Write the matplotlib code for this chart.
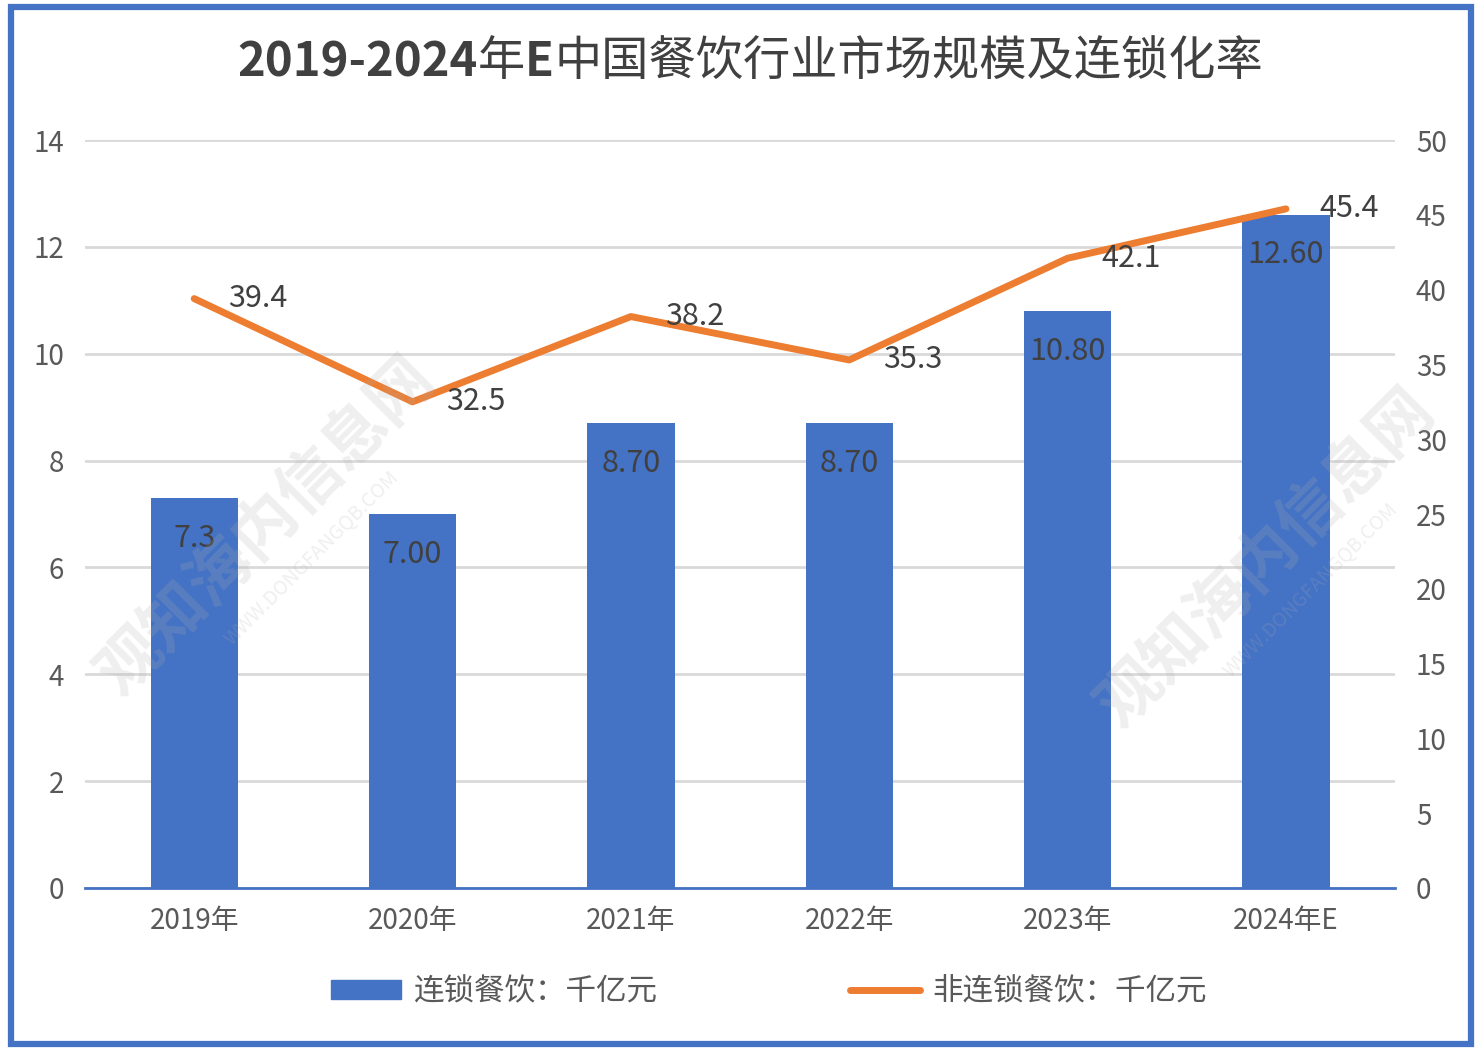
# -*- coding: utf-8 -*-

import matplotlib; matplotlib.use('Agg')
import matplotlib.pyplot as plt
from matplotlib.patches import Rectangle
from matplotlib.lines import Line2D

plt.rcParams['font.family'] = ['Noto Sans CJK SC', 'DejaVu Sans']

# --------------------------
# --- data

years = ['2019年', '2020年', '2021年', '2022年', '2023年', '2024年E']
chain = [7.3, 7.0, 8.7, 8.7, 10.8, 12.6]
chain_labels = ['7.3', '7.00', '8.70', '8.70', '10.80', '12.60']
non_chain = [39.4, 32.5, 38.2, 35.3, 42.1, 45.4]

blue = '#4472C4'
orange = '#ED7D31'
txt = '#595959'

# --------------------------
# --- plot

fig = plt.figure(figsize=(14.81, 10.53), dpi=100)
fig.patch.set_facecolor('white')

# outer blue frame
fig.patches.append(Rectangle((0.0075, 0.0085), 0.986, 0.985, transform=fig.transFigure,
                             fill=False, edgecolor=blue, linewidth=4.5))

ax = fig.add_axes([0.0574, 0.1567, 0.8846, 0.7103])
ax2 = ax.twinx()

x = list(range(len(years)))
ax.bar(x, chain, width=0.4, color=blue, zorder=3)
ax.set_xlim(-0.5, len(years) - 0.5)
ax.set_ylim(0, 14)
ax.set_yticks(range(0, 15, 2))
ax.grid(axis='y', color='#D9D9D9', linewidth=2, zorder=0)
ax.set_axisbelow(True)

for s in ['top', 'right', 'left']:
    ax.spines[s].set_visible(False)
    ax2.spines[s].set_visible(False)
ax2.spines['bottom'].set_visible(False)
ax.spines['bottom'].set_color(blue)
ax.spines['bottom'].set_linewidth(2)

ax.tick_params(axis='y', length=0, labelsize=20, labelcolor=txt, pad=15)
ax.tick_params(axis='x', length=0, labelsize=20, labelcolor=txt, pad=13)
ax.set_xticks(x)
ax.set_xticklabels(years)

for i, v in enumerate(chain):
    ax.text(i, v - 0.75, chain_labels[i], ha='center', va='center', fontsize=22, color='#404040', zorder=5)

ax2.plot(x, non_chain, color=orange, linewidth=5, solid_capstyle='round', zorder=4)
ax2.set_ylim(0, 50)
ax2.set_yticks(range(0, 51, 5))
ax2.tick_params(axis='y', length=0, labelsize=20, labelcolor=txt, pad=15)

for i, v in enumerate(non_chain):
    ax2.text(i + 0.155, v, f'{v:.1f}', ha='left', va='center', fontsize=22, color='#404040', zorder=5)

# watermarks
for wx, wy in [(0.18, 0.50), (0.855, 0.47)]:
    fig.text(wx, wy, '观知海内信息网', rotation=45, fontsize=46, color='#B0B0B0', alpha=0.2,
             ha='center', va='center', fontweight='bold')
    fig.text(wx + 0.03, wy - 0.03, 'WWW.DONGFANGQB.COM', rotation=45, fontsize=14, color='#B0B0B0',
             alpha=0.2, ha='center', va='center')

# title: bold digits, regular CJK
fig.canvas.draw()
renderer = fig.canvas.get_renderer()
parts = [('2019-2024', 'bold'), ('年', 'normal'), ('E', 'bold'), ('中国餐饮行业市场规模及连锁化率', 'normal')]
pieces = []
for s, w in parts:
    t = fig.text(0, 0.941, s, ha='left', va='center', fontsize=34, fontweight=w, color='#404040')
    pieces.append(t)
widths = [t.get_window_extent(renderer).width / fig.bbox.width for t in pieces]
xpos = 0.5065 - sum(widths) / 2
for t, w in zip(pieces, widths):
    t.set_x(xpos)
    xpos += w

handles = [Rectangle((0, 0), 1, 1, color=blue),
           Line2D([0], [0], color=orange, linewidth=5, solid_capstyle='round')]
fig.legend(handles, ['连锁餐饮：千亿元', '非连锁餐饮：千亿元'], loc='center', bbox_to_anchor=(0.519, 0.058),
           ncol=2, frameon=False, fontsize=22, labelcolor=txt, handlelength=2.3, handleheight=0.6,
           columnspacing=6.3, handletextpad=0.4)

plt.savefig('out.png', dpi=100)
